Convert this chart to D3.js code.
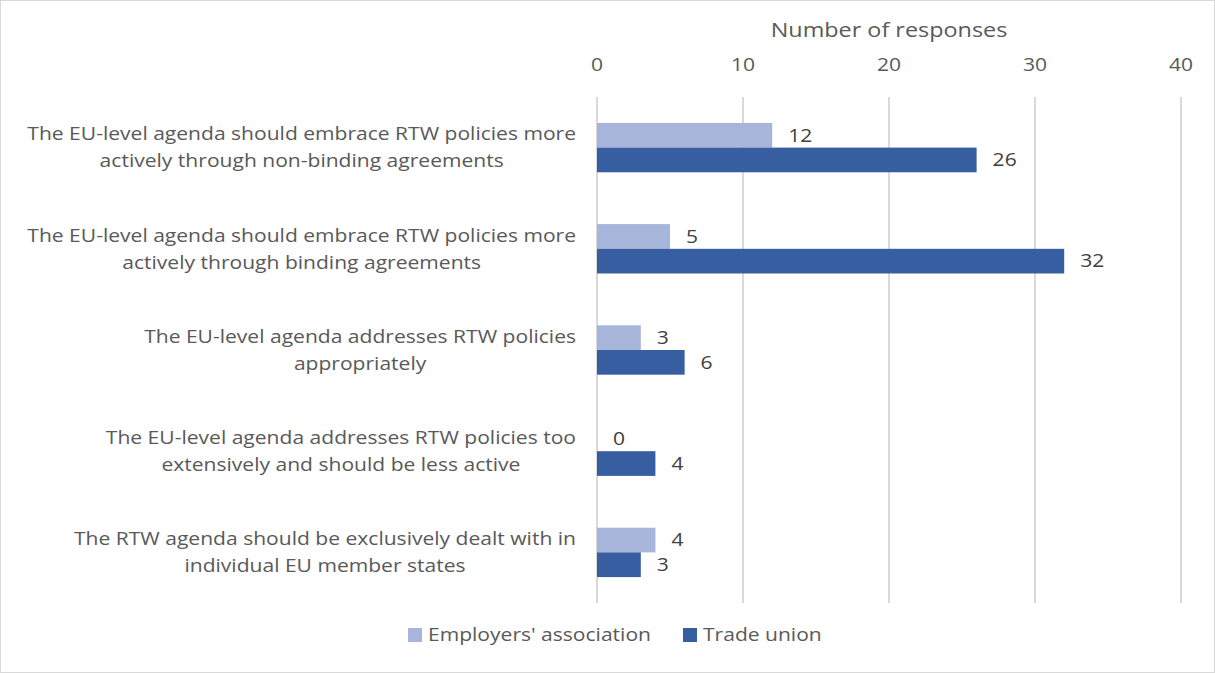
<!DOCTYPE html>
<html>
<head>
<meta charset="utf-8">
<script src="https://cdn.jsdelivr.net/npm/d3@7"></script>
<style>
  body { margin: 0; background: #fff; }
  svg { font-family: "Open Sans", sans-serif; }
</style>
</head>
<body>
<svg width="1215" height="673"></svg>
<script>
const categories = [
  ['The EU-level agenda should embrace RTW policies more', 'actively through non-binding agreements'],
  ['The EU-level agenda should embrace RTW policies more', 'actively through binding agreements'],
  ['The EU-level agenda addresses RTW policies', 'appropriately'],
  ['The EU-level agenda addresses RTW policies too', 'extensively and should be less active'],
  ['The RTW agenda should be exclusively dealt with in', 'individual EU member states']
];
const seriesNames = ["Employers' association", 'Trade union'];
const employers = [12, 5, 3, 0, 4];
const tradeUnion = [26, 32, 6, 4, 3];
const xTicks = [0, 10, 20, 30, 40];

const colors = ['#a7b5da', '#365ea0'];
const textColor = '#595959';
const sx = 1.17; // the original font is set wider than Open Sans

const svg = d3.select('svg');
const width = 1215, height = 673;
const margin = {top: 97, right: 34, bottom: 70, left: 597};

// text helper, stretched horizontally around its anchor
const addText = (parent, px, py, str, size, anchor, fill) =>
  parent.append('text')
    .attr('transform', `translate(${px},${py}) scale(${sx},1)`)
    .attr('dy', '0.35em')
    .attr('text-anchor', anchor)
    .attr('font-size', size)
    .attr('fill', fill)
    .text(str);

svg.append('rect')
  .attr('x', 0.5).attr('y', 0.5)
  .attr('width', width - 1).attr('height', height - 1)
  .attr('fill', '#fff').attr('stroke', '#d9d9d9');

const x = d3.scaleLinear().domain([0, 40]).range([margin.left, width - margin.right]);
const y = d3.scaleBand().domain(d3.range(categories.length))
  .range([margin.top, height - margin.bottom]);
const sub = d3.scaleBand().domain([0, 1]).range([0, y.bandwidth()]).paddingOuter(1.05);

// gridlines
svg.append('g').selectAll('line').data(xTicks).join('line')
  .attr('x1', d => x(d)).attr('x2', d => x(d))
  .attr('y1', margin.top).attr('y2', height - margin.bottom)
  .attr('stroke', '#d9d9d9').attr('stroke-width', 2);

// top axis labels + title
const axisG = svg.append('g');
xTicks.forEach(t => addText(axisG, x(t), 65, t, 18, 'middle', textColor));
addText(svg, (x(0) + x(40)) / 2, 30, 'Number of responses', 20, 'middle', textColor);

// bars
const series = [employers, tradeUnion];
series.forEach((vals, s) => {
  const g = svg.append('g');
  g.selectAll('rect').data(vals).join('rect')
    .attr('x', x(0))
    .attr('y', (d, i) => y(i) + sub(s))
    .attr('width', d => x(d) - x(0))
    .attr('height', sub.bandwidth())
    .attr('fill', colors[s]);
  vals.forEach((v, i) =>
    addText(g, x(v) + 16, y(i) + sub(s) + sub.bandwidth() / 2, v, 18, 'start', '#404040'));
});

// category labels: centred lines, block right-aligned
const labelRight = 576;
categories.forEach((lines, i) => {
  const g = svg.append('g');
  const cy = y(i) + y.bandwidth() / 2;
  const texts = lines.map((l, k) =>
    addText(g, 0, cy + (k - (lines.length - 1) / 2) * 27, l, 18, 'middle', textColor));
  const maxW = d3.max(texts, t => t.node().getComputedTextLength()) * sx;
  texts.forEach((t, k) => t.attr('transform',
    `translate(${labelRight - maxW / 2},${cy + (k - (lines.length - 1) / 2) * 27}) scale(${sx},1)`));
});

// legend
const legend = svg.append('g').attr('transform', 'translate(0,635)');
const legendX = [408, 683];
seriesNames.forEach((name, s) => {
  legend.append('rect')
    .attr('x', legendX[s]).attr('y', -7)
    .attr('width', 14).attr('height', 14)
    .attr('fill', colors[s]);
  addText(legend, legendX[s] + 20, 0, name, 18, 'start', textColor);
});
</script>
</body>
</html>
